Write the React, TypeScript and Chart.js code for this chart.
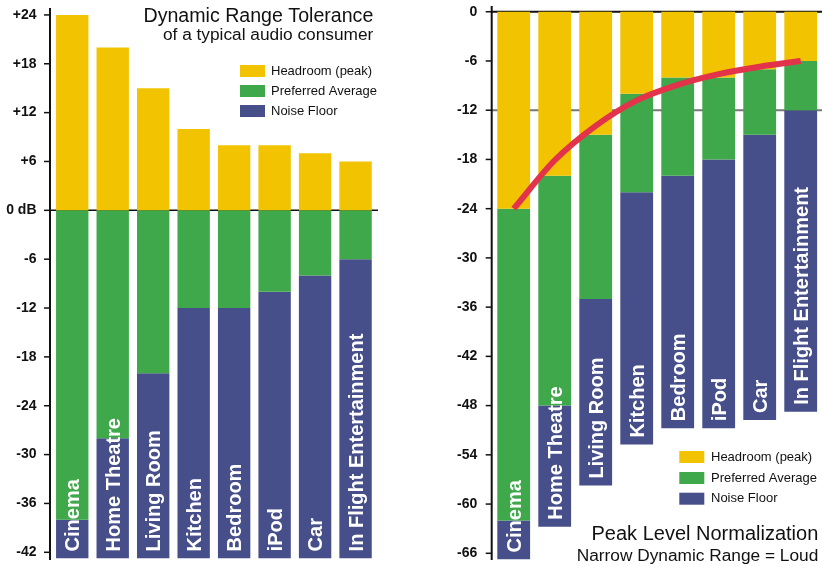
import React, { useEffect, useRef } from 'react';
import { Chart, registerables } from 'chart.js';

Chart.register(...registerables);

const FONT = '"Liberation Sans", Arial, Helvetica, sans-serif';

const categories = ['Cinema', 'Home Theatre', 'Living Room', 'Kitchen', 'Bedroom', 'iPod', 'Car', 'In Flight Entertainment'];
const seriesNames = ['Headroom (peak)', 'Preferred Average', 'Noise Floor'];
const seriesColors = ['#F2C300', '#3EA84A', '#474F8A'];
const curveColor = '#E3334A';

// Left chart: Dynamic Range Tolerance (0 dB = preferred average level)
const leftHeadroomTop = [24, 20, 15, 10, 8, 8, 7, 6];
const leftAverageBottom = [-38, -28, -20, -12, -12, -10, -8, -6];
const leftNoiseBottom = [-42.75, -42.75, -42.75, -42.75, -42.75, -42.75, -42.75, -42.75];
const leftTickValues = [24, 18, 12, 6, 0, -6, -12, -18, -24, -30, -36, -42];
const leftTickLabels = ['+24', '+18', '+12', '+6', '0 dB', '-6', '-12', '-18', '-24', '-30', '-36', '-42'];

// Right chart: Peak Level Normalization (0 = peak)
const rightHeadroomBottom = [-24, -20, -15, -10, -8, -8, -7, -6];
const rightAverageBottom = [-62, -48, -35, -22, -20, -18, -15, -12];
const rightNoiseBottom = [-66.75, -62.75, -57.75, -52.75, -50.75, -50.75, -49.75, -48.75];
const normalizationCurve = [-24, -18.1, -13.9, -10.8, -8.9, -7.6, -6.7, -6.0];
const rightTickValues = [0, -6, -12, -18, -24, -30, -36, -42, -48, -54, -60, -66];
const rightTickLabels = ['0', '-6', '-12', '-18', '-24', '-30', '-36', '-42', '-48', '-54', '-60', '-66'];

type RefLine = { value: number; color: string; width: number; x1: number; x2: number };
type TitleLine = { text: string; size: number; x: number; y: number };
type Decor = {
  axisX: number;
  axisTop: number;
  axisBottom: number;
  tickValues: number[];
  refLines: RefLine[];
  legendBoxX: number;
  legendTextX: number;
  legendRows: number[];
  titles: TitleLine[];
  barDatasetIndex: number;
};

function decorPlugin(d: Decor) {
  return {
    id: 'decor',
    beforeDatasetsDraw(chart: any) {
      const ctx = chart.ctx;
      const y = chart.scales.y;
      ctx.save();
      d.refLines.forEach((l) => {
        const py = y.getPixelForValue(l.value);
        ctx.strokeStyle = l.color;
        ctx.lineWidth = l.width;
        ctx.beginPath();
        ctx.moveTo(l.x1, py);
        ctx.lineTo(l.x2, py);
        ctx.stroke();
      });
      ctx.restore();
    },
    afterDatasetsDraw(chart: any) {
      const ctx = chart.ctx;
      const y = chart.scales.y;
      ctx.save();
      // axis line
      ctx.strokeStyle = '#111';
      ctx.lineWidth = 2;
      ctx.beginPath();
      ctx.moveTo(d.axisX, d.axisTop);
      ctx.lineTo(d.axisX, d.axisBottom);
      ctx.stroke();
      // tick marks
      ctx.lineWidth = 1.5;
      d.tickValues.forEach((v) => {
        const py = y.getPixelForValue(v);
        ctx.beginPath();
        ctx.moveTo(d.axisX - 6, py);
        ctx.lineTo(d.axisX, py);
        ctx.stroke();
      });
      // category labels inside bars
      const meta = chart.getDatasetMeta(d.barDatasetIndex);
      ctx.fillStyle = '#ffffff';
      ctx.font = `bold 20px ${FONT}`;
      ctx.textAlign = 'left';
      ctx.textBaseline = 'alphabetic';
      meta.data.forEach((el: any, i: number) => {
        const bottom = Math.max(el.y, el.base);
        ctx.save();
        ctx.translate(el.x, bottom - 7);
        ctx.rotate(-Math.PI / 2);
        ctx.fillText(categories[i], 0, 7.2);
        ctx.restore();
      });
      // legend
      ctx.font = `13px ${FONT}`;
      ctx.textBaseline = 'middle';
      seriesNames.forEach((name, i) => {
        const cy = d.legendRows[i];
        ctx.fillStyle = seriesColors[i];
        ctx.fillRect(d.legendBoxX, cy - 6, 25, 12);
        ctx.fillStyle = '#111';
        ctx.fillText(name, d.legendTextX, cy);
      });
      // titles
      ctx.textAlign = 'right';
      ctx.textBaseline = 'alphabetic';
      d.titles.forEach((t) => {
        ctx.font = `${t.size}px ${FONT}`;
        ctx.fillStyle = '#111';
        ctx.fillText(t.text, t.x, t.y);
      });
      ctx.restore();
    },
  };
}

type Cfg = {
  min: number;
  max: number;
  tickValues: number[];
  tickLabels: string[];
  axisWidth: number;
  tickPadding: number;
  padding: { top: number; bottom: number; left: number; right: number };
  datasets: any[];
  decor: Decor;
};

function buildConfig(c: Cfg): any {
  return {
    type: 'bar',
    data: { labels: categories, datasets: c.datasets },
    options: {
      responsive: false,
      animation: false,
      events: [],
      layout: { padding: c.padding },
      plugins: {
        legend: { display: false },
        tooltip: { enabled: false },
        title: { display: false },
      },
      scales: {
        x: { type: 'category', offset: true, display: false, grid: { display: false } },
        y: {
          type: 'linear',
          min: c.min,
          max: c.max,
          border: { display: false },
          grid: { display: false, drawTicks: false, tickLength: 0 },
          afterBuildTicks: (s: any) => {
            s.ticks = c.tickValues.map((v) => ({ value: v }));
          },
          afterFit: (s: any) => {
            s.width = c.axisWidth;
            s.paddingTop = 0;
            s.paddingBottom = 0;
          },
          ticks: {
            autoSkip: false,
            padding: c.tickPadding,
            color: '#111',
            font: { family: FONT, size: 14, weight: 'bold' },
            callback: (v: number) => {
              const i = c.tickValues.indexOf(Number(v));
              return i >= 0 ? c.tickLabels[i] : '';
            },
          },
        },
      },
    },
    plugins: [decorPlugin(c.decor)],
  };
}

const barCommon = { grouped: false, barPercentage: 0.8, categoryPercentage: 1, borderWidth: 0, order: 1 };

const leftConfig = () =>
  buildConfig({
    min: -42.75,
    max: 24.85,
    tickValues: leftTickValues,
    tickLabels: leftTickLabels,
    axisWidth: 52,
    tickPadding: 15.5,
    padding: { top: 8, bottom: 7.6, left: 0, right: 35.2 },
    datasets: [
      { ...barCommon, label: seriesNames[0], backgroundColor: seriesColors[0], data: categories.map((_, i) => [0, leftHeadroomTop[i]]) },
      { ...barCommon, label: seriesNames[1], backgroundColor: seriesColors[1], data: categories.map((_, i) => [leftAverageBottom[i], 0]) },
      { ...barCommon, label: seriesNames[2], backgroundColor: seriesColors[2], data: categories.map((_, i) => [leftNoiseBottom[i], leftAverageBottom[i]]) },
    ],
    decor: {
      axisX: 50,
      axisTop: 8,
      axisBottom: 560,
      tickValues: leftTickValues,
      refLines: [{ value: 0, color: '#111', width: 1.5, x1: 50, x2: 378 }],
      legendBoxX: 240,
      legendTextX: 271,
      legendRows: [71, 91, 111],
      titles: [
        { text: 'Dynamic Range Tolerance', size: 19.6, x: 373.3, y: 21.5 },
        { text: 'of a typical audio consumer', size: 17.3, x: 373.3, y: 40 },
      ],
      barDatasetIndex: 2,
    },
  });

const rightConfig = () =>
  buildConfig({
    min: -66.75,
    max: 0.7,
    tickValues: rightTickValues,
    tickLabels: rightTickLabels,
    axisWidth: 82.2,
    tickPadding: 16,
    padding: { top: 6, bottom: 6.55, left: 0, right: 0.8 },
    datasets: [
      {
        type: 'line',
        label: 'Normalization',
        data: normalizationCurve,
        borderColor: curveColor,
        borderWidth: 6,
        pointRadius: 0,
        tension: 0.4,
        cubicInterpolationMode: 'monotone',
        fill: false,
        order: 0,
      },
      { ...barCommon, label: seriesNames[0], backgroundColor: seriesColors[0], data: categories.map((_, i) => [rightHeadroomBottom[i], 0]) },
      { ...barCommon, label: seriesNames[1], backgroundColor: seriesColors[1], data: categories.map((_, i) => [rightAverageBottom[i], rightHeadroomBottom[i]]) },
      { ...barCommon, label: seriesNames[2], backgroundColor: seriesColors[2], data: categories.map((_, i) => [rightNoiseBottom[i], rightAverageBottom[i]]) },
    ],
    decor: {
      axisX: 80.7,
      axisTop: 6,
      axisBottom: 560,
      tickValues: rightTickValues,
      refLines: [
        { value: 0, color: '#111', width: 2, x1: 80.7, x2: 411 },
        { value: -12, color: '#777', width: 2, x1: 80.7, x2: 411 },
      ],
      legendBoxX: 268.3,
      legendTextX: 300,
      legendRows: [457, 478, 498.7],
      titles: [
        { text: 'Peak Level Normalization', size: 20, x: 407.3, y: 540.3 },
        { text: 'Narrow Dynamic Range = Loud', size: 17.3, x: 407.3, y: 561 },
      ],
      barDatasetIndex: 3,
    },
  });

function ChartCanvas({ makeConfig, left }: { makeConfig: () => any; left: number }) {
  const ref = useRef<HTMLCanvasElement>(null);
  useEffect(() => {
    const chart = new Chart(ref.current as HTMLCanvasElement, makeConfig());
    return () => chart.destroy();
  }, []);
  return (
    <canvas
      ref={ref}
      width={411}
      height={566}
      style={{ position: 'absolute', left, top: 0, width: 411, height: 566, display: 'block' }}
    />
  );
}

export default function App() {
  return (
    <div style={{ position: 'absolute', left: 0, top: 0, width: 822, height: 566, background: '#fff', overflow: 'hidden' }}>
      <ChartCanvas makeConfig={leftConfig} left={0} />
      <ChartCanvas makeConfig={rightConfig} left={411} />
    </div>
  );
}
